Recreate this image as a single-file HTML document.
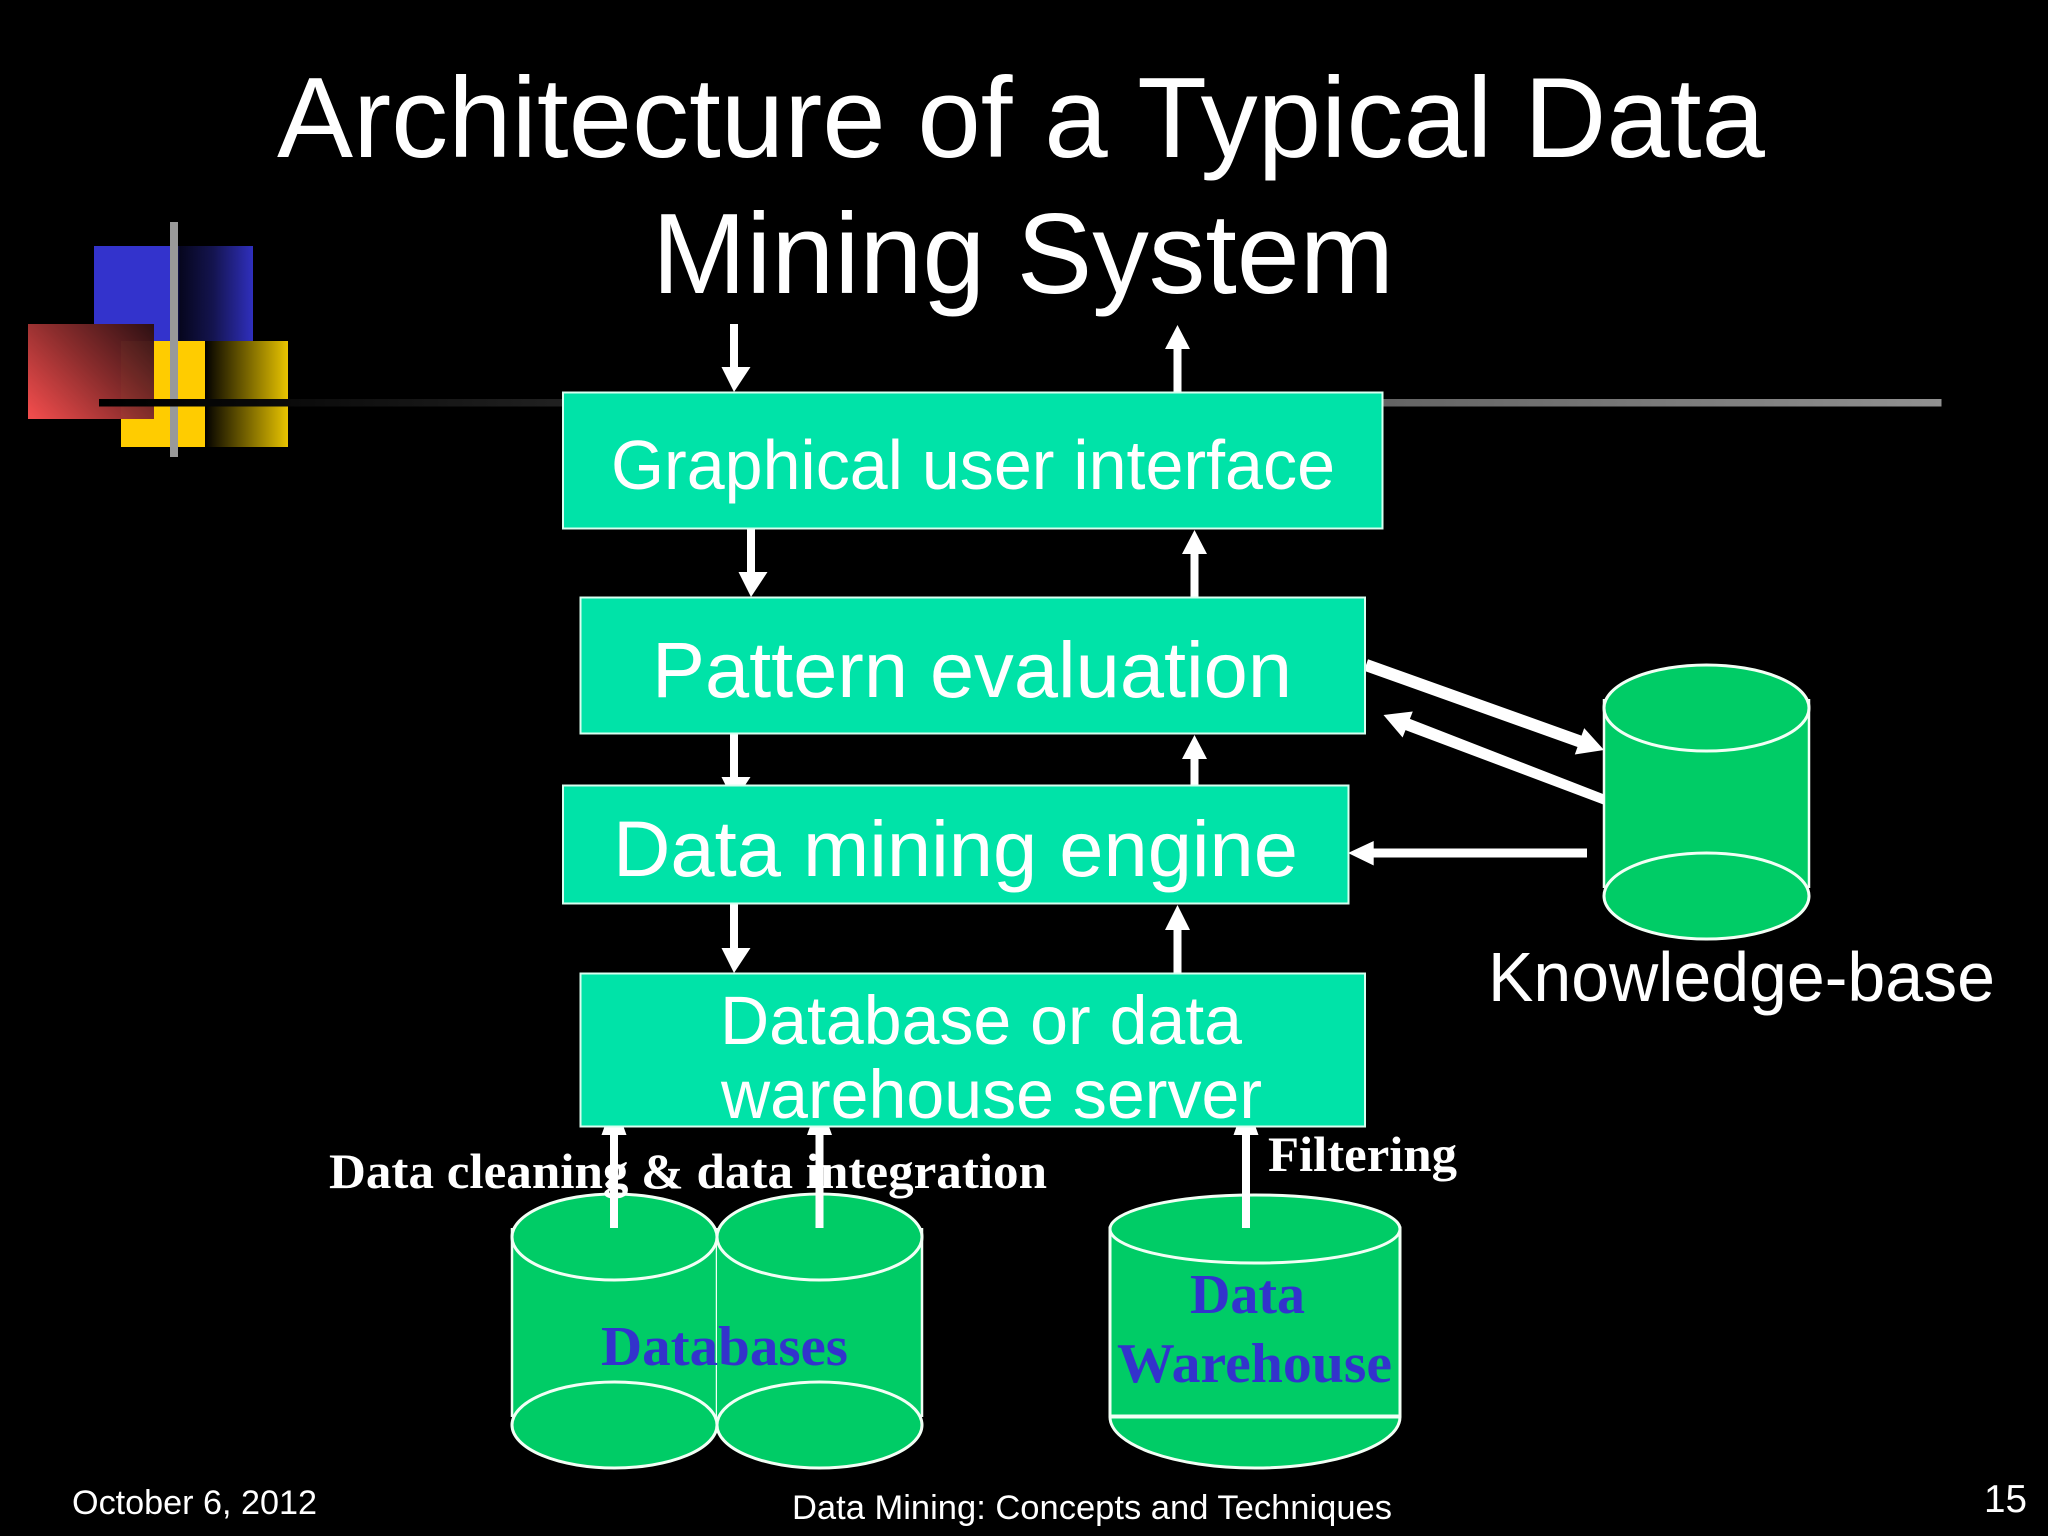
<!DOCTYPE html>
<html><head><meta charset="utf-8"><style>
html,body{margin:0;padding:0;background:#000;width:2048px;height:1536px;overflow:hidden}
svg{display:block}
.s{font-family:"Liberation Sans",sans-serif;fill:#fff}
.b{font-family:"Liberation Serif",serif;font-weight:bold;fill:#fff}
.u{font-family:"Liberation Serif",serif;font-weight:bold;fill:#3333cc}
</style></head><body>
<svg width="2048" height="1536" viewBox="0 0 2048 1536" xmlns="http://www.w3.org/2000/svg">
<defs>
<linearGradient id="gb" x1="0" x2="1" y1="0" y2="0"><stop offset="0" stop-color="#3333cc"/><stop offset=".5" stop-color="#3333cc"/><stop offset=".54" stop-color="#06061e"/><stop offset=".75" stop-color="#14144f"/><stop offset="1" stop-color="#2f2fbd"/></linearGradient>
<linearGradient id="gy" x1="0" x2="1" y1="0" y2="0"><stop offset="0" stop-color="#000"/><stop offset=".1" stop-color="#1a1500"/><stop offset="1" stop-color="#e8c400"/></linearGradient>
<linearGradient id="gr" gradientUnits="userSpaceOnUse" x1="40" y1="425" x2="150" y2="318"><stop offset="0" stop-color="#f04c4c"/><stop offset=".5" stop-color="#8a2c2c"/><stop offset="1" stop-color="#2a0f12"/></linearGradient>
<linearGradient id="gl" gradientUnits="userSpaceOnUse" x1="99" y1="0" x2="1941" y2="0"><stop offset="0" stop-color="#000"/><stop offset=".1" stop-color="#0a0a0a"/><stop offset="1" stop-color="#919191"/></linearGradient>
</defs>
<rect width="2048" height="1536" fill="#000"/>

<!-- logo -->
<rect x="94" y="246" width="159" height="95" fill="url(#gb)"/>
<rect x="121" y="341" width="84" height="106" fill="#ffcc00"/>
<rect x="205" y="341" width="83" height="106" fill="url(#gy)"/>
<rect x="28" y="324" width="126" height="95" fill="url(#gr)"/>
<rect x="121" y="341" width="33" height="78" fill="#c08040" opacity=".06"/>
<rect x="170" y="222" width="8" height="235" fill="#999"/>
<rect x="99" y="399" width="1842.5" height="7.5" fill="url(#gl)"/>

<!-- title -->
<text class="s" x="277" y="157" font-size="114" textLength="1488" lengthAdjust="spacingAndGlyphs">Architecture of a Typical Data</text>
<text class="s" x="652" y="293" font-size="114" textLength="742" lengthAdjust="spacingAndGlyphs">Mining System</text>

<!-- knowledge cylinder -->
<g fill="#00cc66" stroke="#f2fff5" stroke-width="3">
<rect x="1604" y="708" width="205" height="188" stroke="none"/>
<path d="M1604 699V888M1809 699V888" fill="none" stroke-width="2.500"/>
<ellipse cx="1706.500" cy="708" rx="102.500" ry="43"/>
<ellipse cx="1706.500" cy="896" rx="102.500" ry="43"/>
<!-- database cylinders -->
<rect x="512" y="1237" width="205" height="188" stroke="none"/>
<path d="M512 1228V1417M717 1228V1417" fill="none" stroke-width="2.500"/>
<ellipse cx="614.500" cy="1237" rx="102.500" ry="43"/>
<ellipse cx="614.500" cy="1425" rx="102.500" ry="43"/>
<rect x="717" y="1237" width="205" height="188" stroke="none"/>
<path d="M922 1228V1417" fill="none" stroke-width="2.500"/>
<ellipse cx="819.500" cy="1237" rx="102.500" ry="43"/>
<ellipse cx="819.500" cy="1425" rx="102.500" ry="43"/>
<!-- warehouse -->
<path d="M1110 1417 C1110 1445 1175 1468 1255 1468 C1335 1468 1400 1445 1400 1417 Z"/>
<rect x="1110" y="1228" width="290" height="188"/>
<ellipse cx="1255" cy="1229" rx="145" ry="34"/>
</g>

<!-- arrows -->
<g fill="#fff">
<path d="M730 324h8v43h12.500L734 392 721.500 367H730z"/>
<path d="M1177.500 325l12.500 24h-8.500v44h-8v-44h-8.500z"/>
<path d="M747 529h8v43h12.500L751 597 738.500 572H747z"/>
<path d="M1194.500 530l12.500 24h-8.500v44h-8v-44h-8.500z"/>
<path d="M730 734h8v43h12.500L734 802 721.500 777H730z"/>
<path d="M1194.500 735l12.500 24h-8.500v27h-8v-27h-8.500z"/>
<path d="M730 904h8v44h12.500L734 973 721.500 948H730z"/>
<path d="M1177.500 905l12.500 25h-8.500v44h-8v-44h-8.500z"/>
<!-- bottom arrows -->
<path d="M610 1228v-93h-8.500l12.500-35 12.500 35h-8.500v93z"/>
<path d="M815.500 1228v-93h-8.500l12.500-35 12.500 35h-8.500v93z"/>
<path d="M1242 1228v-93h-8.500l12.500-35 12.500 35h-8.500v93z"/>
<!-- right arrows -->
<path d="M1368 659.300L1581.500 735.600L1584.200 728.100L1604 750L1574.800 754.500L1577.500 747L1364 670.700Z"/>
<path d="M1383.500 715L1412.800 711.500L1409.900 718.900L1604 794.400L1604 804.700L1405.500 730.100L1402.600 737.500Z"/>
<path d="M1348 853l25.700-12v7.500h213.300v9h-213.300v8z"/>
</g>

<!-- boxes -->
<g fill="#00e3a8" stroke="#d8fff0" stroke-width="2">
<rect x="563" y="392.500" width="819.500" height="136"/>
<rect x="580.500" y="597.500" width="784.500" height="136"/>
<rect x="563" y="785.500" width="785.500" height="118"/>
<rect x="580.500" y="973.500" width="784.500" height="153"/>
</g>

<!-- box labels -->
<text class="s" x="611" y="489" font-size="70" textLength="724" lengthAdjust="spacingAndGlyphs">Graphical user interface</text>
<text class="s" x="652" y="697" font-size="79" textLength="640" lengthAdjust="spacingAndGlyphs">Pattern evaluation</text>
<text class="s" x="613" y="876" font-size="79" textLength="685" lengthAdjust="spacingAndGlyphs">Data mining engine</text>
<text class="s" x="720" y="1044" font-size="69" textLength="522" lengthAdjust="spacingAndGlyphs">Database or data</text>
<text class="s" x="721" y="1118" font-size="69" textLength="541" lengthAdjust="spacingAndGlyphs">warehouse server</text>
<text class="s" x="1488" y="1001" font-size="70" textLength="507" lengthAdjust="spacingAndGlyphs">Knowledge-base</text>

<!-- bold serif labels -->
<text class="b" x="329" y="1188" font-size="50" textLength="718" lengthAdjust="spacingAndGlyphs">Data cleaning &amp; data integration</text>
<text class="b" x="1268" y="1171" font-size="50" textLength="189" lengthAdjust="spacingAndGlyphs">Filtering</text>
<text class="u" x="601" y="1365" font-size="56" textLength="247" lengthAdjust="spacingAndGlyphs">Databases</text>
<text class="u" x="1190" y="1313" font-size="56" textLength="115" lengthAdjust="spacingAndGlyphs">Data</text>
<text class="u" x="1117" y="1382" font-size="56" textLength="275" lengthAdjust="spacingAndGlyphs">Warehouse</text>

<!-- footer -->
<text class="s" x="72" y="1514" font-size="34" textLength="245" lengthAdjust="spacingAndGlyphs">October 6, 2012</text>
<text class="s" x="792" y="1519" font-size="34" textLength="600" lengthAdjust="spacingAndGlyphs">Data Mining: Concepts and Techniques</text>
<text class="s" x="1984" y="1512" font-size="39" textLength="43" lengthAdjust="spacingAndGlyphs">15</text>
</svg>
</body></html>
